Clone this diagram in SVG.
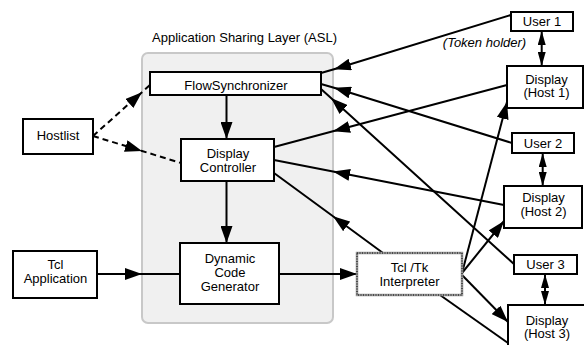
<svg xmlns="http://www.w3.org/2000/svg" width="584" height="345" viewBox="0 0 584 345">
<style>
.box{fill:#fff;stroke:#000;stroke-width:2}
.t{font-family:"Liberation Sans",Arial,sans-serif;font-size:13px;fill:#000;text-anchor:middle}
.ln{fill:none;stroke:#000;stroke-width:2}
.mid{marker-mid:url(#ah)}
.end{marker-end:url(#ah)}
.dash{stroke-dasharray:6 4}
.bi{marker-start:url(#sm);marker-end:url(#sm)}
</style>
<defs>
<marker id="ah" markerUnits="userSpaceOnUse" markerWidth="17" markerHeight="12" refX="17" refY="6" orient="auto" viewBox="0 0 17 12">
<path d="M0,0 L17,6 L0,12 z" fill="#000"/>
</marker>
<marker id="sm" markerUnits="userSpaceOnUse" markerWidth="14" markerHeight="8" refX="14" refY="4" orient="auto-start-reverse" viewBox="0 0 14 8">
<path d="M0,0 L14,4 L0,8 z" fill="#000"/>
</marker>
</defs>
<rect id="asl" x="142" y="53" width="191" height="270" rx="6" fill="#f0f0f0" stroke="#c8c8c8" stroke-width="2"/>
<text class="t" x="244.5" y="42">Application Sharing Layer (ASL)</text>
<g id="connectors">
<polyline class="ln dash mid" points="93,136 142,92.2 150,85"/>
<polyline class="ln dash mid" points="93,136 142,151 181,163"/>
<line class="ln end" x1="226.5" y1="95" x2="226.5" y2="139"/>
<line class="ln end" x1="226.5" y1="181" x2="226.5" y2="243"/>
<polyline class="ln mid" points="97,274 142,274 180,274"/>
<line class="ln end" x1="279" y1="274" x2="357" y2="274"/>
<polyline class="ln mid" points="511,15 334,69.3 321,73"/>
<polyline class="ln mid" points="512,143 334,87.7 321,84"/>
<polyline class="ln mid" points="515,265 331,98.1 321,89"/>
<polyline class="ln mid" points="507,85 333,131.3 274,147"/>
<polyline class="ln mid" points="504,205 333,171.6 274,160"/>
<polyline class="ln mid" points="383,253 333,216.3 274,173"/>
<line class="ln end" x1="462" y1="273" x2="507" y2="102"/>
<line class="ln end" x1="462" y1="273" x2="504" y2="221"/>
<line class="ln end" x1="462" y1="275" x2="508" y2="322"/>
<line class="ln" x1="440" y1="295" x2="508" y2="343"/>
<line class="ln bi" x1="541.7" y1="31" x2="541.7" y2="66"/>
<line class="ln bi" x1="542.7" y1="153" x2="542.7" y2="186"/>
<line class="ln bi" x1="545" y1="274" x2="545" y2="305"/>
</g>
<g id="flowsync"><rect class="box" x="150" y="72" width="171" height="23"/><text class="t" x="236" y="89.5">FlowSynchronizer</text></g>
<g id="displaycontroller"><rect class="box" x="181" y="139" width="93" height="42"/><text class="t" x="228" y="157.5">Display</text><text class="t" x="228" y="171.5">Controller</text></g>
<g id="dcg"><rect class="box" x="180" y="243" width="99" height="61"/><text class="t" x="230" y="262.5">Dynamic</text><text class="t" x="230" y="276.5">Code</text><text class="t" x="230" y="290.5">Generator</text></g>
<g id="hostlist"><rect class="box" x="23" y="119" width="70" height="35"/><text class="t" x="58" y="139.5">Hostlist</text></g>
<g id="tclapp"><rect class="box" x="13" y="251" width="84" height="47"/><text class="t" x="55.5" y="269">Tcl</text><text class="t" x="55.5" y="283">Application</text></g>
<g id="tcltk"><rect x="357" y="253" width="105" height="42" fill="#fff" stroke="#999" stroke-width="2.5"/><rect x="357" y="253" width="105" height="42" fill="none" stroke="#333" stroke-width="1.5" stroke-dasharray="1 1.5"/><text class="t" x="409.5" y="271.5">Tcl /Tk</text><text class="t" x="409.5" y="285.5">Interpreter</text></g>
<g id="user1"><rect class="box" x="511" y="12" width="62" height="19"/><text class="t" x="542" y="25.5">User 1</text></g>
<text class="t" x="484.5" y="46.5" font-style="italic" fill="#222">(Token holder)</text>
<g id="display1"><rect class="box" x="507" y="66" width="76" height="42"/><text class="t" x="546.5" y="83.5">Display</text><text class="t" x="546.5" y="97">(Host 1)</text></g>
<g id="user2"><rect class="box" x="512" y="133" width="62" height="20"/><text class="t" x="543" y="148">User 2</text></g>
<g id="display2"><rect class="box" x="504" y="186" width="78" height="42"/><text class="t" x="543.5" y="202">Display</text><text class="t" x="543.5" y="215.5">(Host 2)</text></g>
<g id="user3"><rect class="box" x="514" y="255" width="63" height="19"/><text class="t" x="545.5" y="268.5">User 3</text></g>
<g id="display3"><rect class="box" x="508" y="305" width="78" height="50"/><text class="t" x="547" y="324.5">Display</text><text class="t" x="547" y="338">(Host 3)</text></g>
</svg>
